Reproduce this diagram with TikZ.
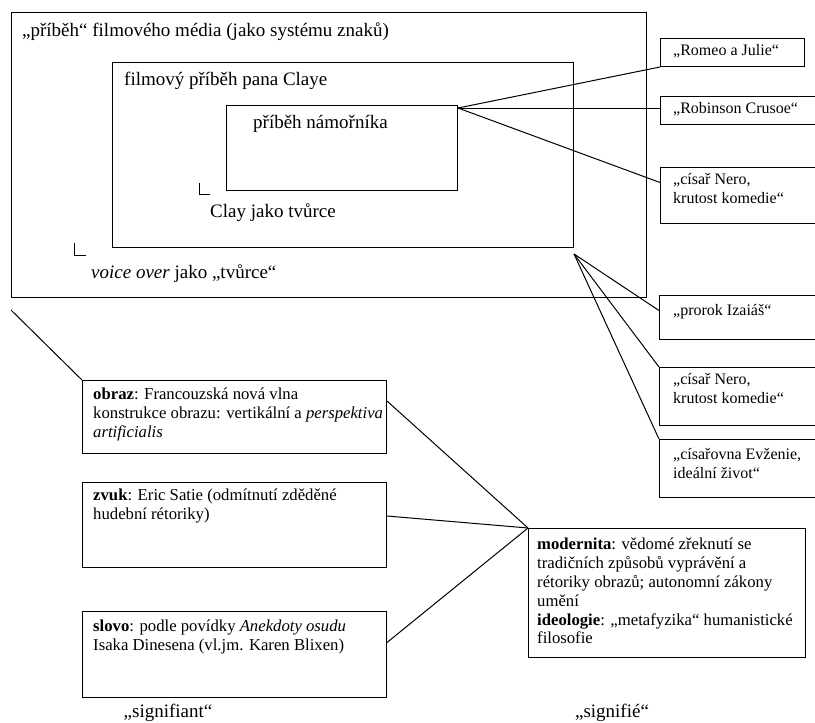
\documentclass[tikz,border=0pt]{standalone}
\usepackage{fontspec}
\setmainfont{Liberation Serif}
\usetikzlibrary{positioning}

\newcommand{\captionsize}{\fontsize{19}{22}\selectfont}
\newcommand{\notesize}{\fontsize{16.7}{18.8}\selectfont}
\newcommand{\tagsize}{\fontsize{16}{19}\selectfont}

\begin{document}
\begin{tikzpicture}[x=1pt,y=-1pt,
  storybox/.style={draw,line width=1pt,inner sep=0pt,anchor=north west},
  notebox/.style={draw,line width=1pt,inner sep=0pt,anchor=north west},
  caption/.style={anchor=base west,inner sep=0pt,font=\captionsize},
  notetext/.style={anchor=north west,inner sep=0pt,align=left,font=\notesize,execute at begin node=\strut},
  tagtext/.style={anchor=north west,inner sep=0pt,align=left,font=\tagsize,execute at begin node=\strut},
  connector/.style={line width=1pt}]
  \clip (0,0) rectangle (815,723);
  \node[storybox,minimum width=635pt,minimum height=285pt] (medium) at (11,12) {};
  \node[storybox,minimum width=461pt,minimum height=185pt] (claye) at (112,62) {};
  \node[storybox,minimum width=231pt,minimum height=85pt] (namornik) at (226,105) {};
  \node[caption] (medium-title) at (22,36) {„příběh“ filmového média (jako systému znaků)};
  \node[caption] (claye-title) at (124,85) {filmový příběh pana Claye};
  \node[caption] (namornik-title) at (253,128) {příběh námořníka};
  \node[caption] (clay-author) at (210,217) {Clay jako tvůrce};
  \node[caption] (voice-author) at (91,278) {\textit{voice over} jako „tvůrce“};
  \coordinate (clay-mark) at (199,183);
  \coordinate (voice-mark) at (74,243);
  \draw[line width=0.9pt] (clay-mark) -- ++(0,11) -- ++(11,0);
  \draw[line width=0.9pt] (voice-mark) -- ++(0,12) -- ++(12,0);

  \node[notebox,minimum width=144pt,minimum height=28pt] (romeo) at (660,38) {};
  \node[notebox,minimum width=160pt,minimum height=28pt] (robinson) at (660,96) {};
  \node[notebox,minimum width=160pt,minimum height=56pt] (nero1) at (660,167) {};
  \node[notebox,minimum width=160pt,minimum height=44pt] (prorok) at (659,295) {};
  \node[notebox,minimum width=160pt,minimum height=58pt] (nero2) at (659,367) {};
  \node[notebox,minimum width=160pt,minimum height=58pt] (evzenie) at (659,439) {};
  \node[tagtext] (romeo-text) at (673,42) {„Romeo a Julie“};
  \node[tagtext] (robinson-text) at (673,100) {„Robinson Crusoe“};
  \node[tagtext] (nero1-text) at (673,173) {„císař Nero,\\krutost komedie“};
  \node[tagtext] (prorok-text) at (673,302) {„prorok Izaiáš“};
  \node[tagtext] (nero2-text) at (673,373) {„císař Nero,\\krutost komedie“};
  \node[tagtext] (evzenie-text) at (673,448) {„císařovna Evženie,\\ideální život“};

  \node[notebox,minimum width=304pt,minimum height=73pt] (obraz) at (82,380) {};
  \node[notebox,minimum width=304pt,minimum height=85pt] (zvuk) at (82,482) {};
  \node[notebox,minimum width=304pt,minimum height=86pt] (slovo) at (82,611) {};
  \node[notebox,minimum width=277pt,minimum height=129pt] (modernita) at (528,528) {};
  \node[notetext] (obraz-text) at (93,388) {\textbf{obraz}: Francouzská nová vlna\\konstrukce obrazu: vertikální a \textit{perspektiva}\\\textit{artificialis}};
  \node[notetext] (zvuk-text) at (93,489) {\textbf{zvuk}: Eric Satie (odmítnutí zděděné\\hudební rétoriky)};
  \node[notetext] (slovo-text) at (93,620) {\textbf{slovo}: podle povídky \textit{Anekdoty osudu}\\Isaka Dinesena (vl.jm. Karen Blixen)};
  \node[notetext] (modernita-text) at (537,538) {\textbf{modernita}: vědomé zřeknutí se\\tradičních způsobů vyprávění a\\rétoriky obrazů; autonomní zákony\\umění\\\textbf{ideologie}: „metafyzika“ humanistické\\filosofie};
  \node[caption,anchor=base] (signifiant) at (168,717) {„signifiant“};
  \node[caption,anchor=base] (signifie) at (612,717) {„signifié“};

  \coordinate (sailor-hub) at ([yshift=-3pt]namornik.north east);
  \coordinate (clay-hub) at ([yshift=-6pt]claye.south east);
  \coordinate (medium-tail) at ([yshift=-12pt]medium.south west);
  \draw[connector] (sailor-hub) -- (romeo.south west);
  \draw[connector] (sailor-hub) -- (sailor-hub -| robinson.west);
  \draw[connector] (sailor-hub) -- ([yshift=13pt]nero1.west);
  \draw[connector] (clay-hub) -- ([yshift=7pt]prorok.west);
  \draw[connector] (clay-hub) -- (nero2.north west);
  \draw[connector] (clay-hub) -- (evzenie.north west);
  \draw[connector] (medium-tail) -- (obraz.north west);
  \draw[connector] ([yshift=16pt]obraz.east) -- (modernita.north west);
  \draw[connector] ([yshift=9pt]zvuk.east) -- (modernita.north west);
  \draw[connector] ([yshift=12pt]slovo.east) -- (modernita.north west);
\end{tikzpicture}
\end{document}
